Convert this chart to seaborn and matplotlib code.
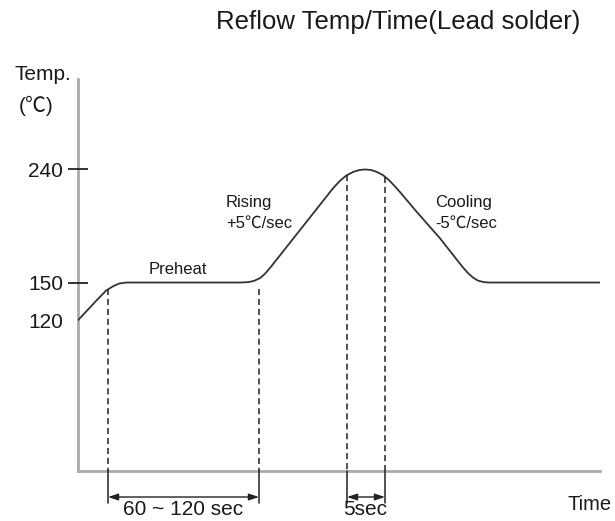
import matplotlib
matplotlib.use("Agg")
import matplotlib.pyplot as plt
import seaborn as sns
import numpy as np
import pandas as pd

# reflow profile (time in arbitrary units, temperature in degC)
time = [0, 10, 20, 28, 35, 41, 48, 162, 170, 176, 182, 187, 192, 255, 262,
        268, 275, 281, 287, 293, 299, 305, 311, 317, 322, 339, 362, 379,
        385, 390, 395, 400, 406, 412, 522]
temp = [120, 128.5, 137, 143.5, 147, 149.2, 150, 150, 150.3, 151.3, 153.5,
        157, 161.6, 225, 231, 235, 238, 239.5, 240, 239.6, 238, 235.5, 231.5,
        226.5, 222, 206, 185.2, 168, 162, 157.5, 154, 151.5, 150.3, 150, 150]

ytick_vals = [120, 150, 240]
ytick_labels = ["120", "150", "240"]

# dashed markers: preheat window and peak window
preheat_marks = [30, 181]
peak_marks = [269, 307]

FAM = ["Liberation Sans", "Noto Sans CJK SC", "DejaVu Sans"]

sns.set_style("white")
plt.rcParams["font.family"] = FAM

fig = plt.figure(figsize=(6.15, 5.21), dpi=100)
ax = fig.add_axes([78 / 615, 50 / 521, 522 / 615, 392 / 521])

df = pd.DataFrame({"time": time, "temp": temp})
sns.lineplot(data=df, x="time", y="temp", ax=ax, color="#333333", lw=1.3)

ax.set_xlim(0, 522)
ax.set_ylim(0, 312)
ax.set_xlabel("")
ax.set_ylabel("")
ax.set_xticks([])
ax.set_yticks(ytick_vals)
ax.set_yticklabels(ytick_labels, fontsize=15, color="#1a1a1a")
ax.tick_params(axis="y", left=True, direction="inout", length=14.4, width=1.2,
               color="#111111", pad=3.6)
ax.yaxis.get_major_ticks()[0].tick1line.set_visible(False)

for side in ["top", "right"]:
    ax.spines[side].set_visible(False)
for side in ["left", "bottom"]:
    ax.spines[side].set_color("#aaaaaa")
    ax.spines[side].set_linewidth(2)
    ax.spines[side].set_zorder(0.5)

curve_t = np.array(time)
curve_T = np.array(temp)
arrow_y = -20.7
line_bottom = -25.5


def mark(t, top):
    ax.plot([t, t], [top, 0], ls=(0, (4, 2.5)), color="#222222", lw=1.1)
    ax.plot([t, t], [0, line_bottom], color="#222222", lw=1.1, clip_on=False)


for t in preheat_marks:
    mark(t, min(np.interp(t, curve_t, curve_T), 145))
for t in peak_marks:
    mark(t, np.interp(t, curve_t, curve_T))

for a, b in [preheat_marks, peak_marks]:
    ax.annotate("", xy=(a, arrow_y), xytext=(b, arrow_y),
                arrowprops=dict(arrowstyle="<|-|>,head_length=0.6,head_width=0.2",
                                color="#222222", lw=1,
                                mutation_scale=10, shrinkA=0, shrinkB=0),
                annotation_clip=False)

ax.text(np.mean(preheat_marks), -31, "60 ~ 120 sec", ha="center",
        va="center", fontsize=15, color="#1a1a1a", clip_on=False)
ax.text(np.mean(peak_marks) - 1, -31, "5sec", ha="center", va="center",
        fontsize=15, color="#1a1a1a", clip_on=False)
ax.text(512, -26.5, "Time", ha="center", va="center", fontsize=14.5,
        color="#1a1a1a", clip_on=False)

ax.text(100, 160, "Preheat", ha="center", va="center", fontsize=12,
        color="#1a1a1a")
ax.text(148, 214, "Rising", ha="left", va="center", fontsize=12,
        color="#1a1a1a")
ax.text(148, 197, "+5℃/sec", ha="left", va="center", fontsize=12,
        color="#1a1a1a")
ax.text(357, 214, "Cooling", ha="left", va="center", fontsize=12,
        color="#1a1a1a")
ax.text(357, 197, "-5℃/sec", ha="left", va="center", fontsize=12,
        color="#1a1a1a")

fig.text(42.5 / 615, 1 - 74 / 521, "Temp.", ha="center", va="center",
         fontsize=15, color="#1a1a1a")
fig.text(36 / 615, 1 - 106 / 521, "(℃)", ha="center", va="center",
         fontsize=15, color="#1a1a1a")
fig.text(398 / 615, 1 - 22 / 521, "Reflow Temp/Time(Lead solder)",
         ha="center", va="center", fontsize=18.5, color="#1a1a1a")

fig.savefig("out.png", dpi=100)
